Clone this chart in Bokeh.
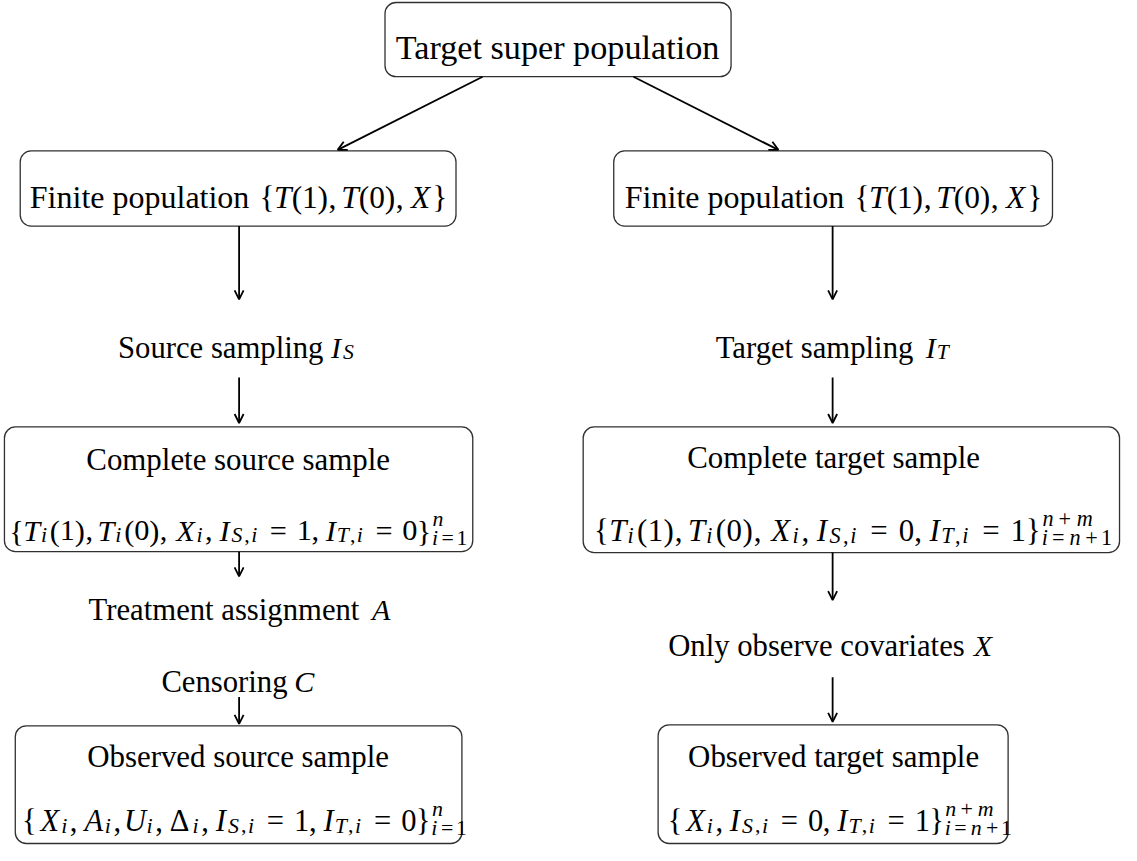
from bokeh.plotting import figure
from bokeh.models import ColumnDataSource, Range1d, Arrow, OpenHead
from bokeh.core.properties import value
from bokeh.embed import file_html
from bokeh.resources import INLINE

# ---------------- content (texts) ----------------
title_texts = ["Target super population", "Complete source sample", "Observed source sample",
               "Complete target sample", "Observed target sample"]
label_prefix = ["Finite population", "Finite population", "Source sampling", "Target sampling",
                "Treatment assignment", "Censoring", "Only observe covariates"]
label_math = [r"\{T(1), T(0), X\}", r"\{T(1), T(0), X\}", "I_S", "I_T", "A", "C", "X"]
formula_texts = [
    r"\{T_i(1), T_i(0), X_i, I_{S,i} = 1, I_{T,i} = 0\}_{i=1}^n",
    r"\{T_i(1), T_i(0), X_i, I_{S,i} = 0, I_{T,i} = 1\}_{i=n+1}^{n+m}",
    r"\{X_i, A_i, U_i, \Delta_i, I_{S,i} = 1, I_{T,i} = 0\}_{i=1}^n",
    r"\{X_i, I_{S,i} = 0, I_{T,i} = 1\}_{i=n+1}^{n+m}",
]

# ---------------- layout (diagram geometry, in reference pixels) ----------------
box_left = [391, 21, 623, 5, 592, 16, 668]
box_right = [742, 463, 1068, 480, 1136, 469, 1023]
box_top = [8, 158, 158, 437, 437, 739, 738]
box_bottom = [83, 234, 234, 563, 564, 858, 858]

arrow_x0 = [490, 643, 243, 243, 243, 243, 845, 845, 845, 845]
arrow_y0 = [83, 83, 234, 387, 563, 710, 234, 387, 564, 690]
arrow_x1 = [343, 790, 243, 243, 243, 243, 845, 845, 845, 845]
arrow_y1 = [157, 157, 308, 433, 588, 737, 308, 433, 612, 735]

title_cx = [566, 242, 242, 846, 846]
title_base = [53, 470, 770, 468, 770]
title_em = [31.5, 28.5, 28.5, 28.5, 28.5]

label_cx = [242, 845.5, 243, 845, 243, 243, 845]
label_base = [205, 205, 357, 357, 622, 695, 658]
label_em = [29.5, 29.5, 28.3, 28.3, 28.3, 28.3, 28.3]

formula_x0 = [10, 603, 23, 678]
formula_base = [542, 542, 835, 835]
formula_em = [28.6, 30.3, 29.0, 28.9]        # spacing em
formula_font_em = [28.5, 29.0, 28.6, 28.6]   # glyph size em

FONT = "'Liberation Serif', 'Times New Roman', serif"

# Computer Modern metrics (em units) used to typeset glyph slots
CM_RM = {'{': .5, '}': .5, '(': .389, ')': .389, ',': .278, '=': .778, '+': .778,
         '0': .5, '1': .5, 'Δ': .833, ' ': .333,
         'a': .5, 'b': .556, 'c': .444, 'd': .556, 'e': .444, 'f': .306, 'g': .5, 'h': .556,
         'i': .278, 'l': .278, 'm': .833, 'n': .556, 'o': .5, 'p': .556, 'r': .392, 's': .394,
         't': .389, 'u': .556, 'v': .528, 'y': .528,
         'C': .722, 'F': .653, 'O': .778, 'S': .556, 'T': .722}
CM_IT = {'T': .584, 'X': .828, 'I': .44, 'A': .75, 'U': .683, 'C': .715, 'S': .613,
         'i': .345, 'n': .6, 'm': .878}
# advance widths of the Times-like italic glyphs actually drawn
TM_IT = {'T': .556, 'X': .611, 'I': .333, 'A': .611, 'U': .722, 'C': .667, 'S': .5,
         'i': .278, 'n': .5, 'm': .722}
SCRIPT_W = {'i': .282, 'n': .498, 'm': .718, 'S': .496, 'T': .473, '=': .614, '+': .614,
            '1': .398, ',': .223}
SYM = {r'\{': '{', r'\}': '}', r'\Delta': 'Δ'}

TEXT_SCALE = 1.10    # text font size per CM em
MATH_SCALE = 1.08
SCRIPT_SCALE = 0.72


def tokenize(s):
    out, i = [], 0
    while i < len(s):
        c = s[i]
        if c == ' ':
            i += 1
            continue
        if c == '\\':
            if s[i + 1].isalpha():
                j = i + 1
                while j < len(s) and s[j].isalpha():
                    j += 1
                out.append(s[i:j]); i = j
            else:
                out.append(s[i:i + 2]); i += 2
        else:
            out.append(c); i += 1
    return out


def read_script(toks, k):
    if toks[k] == '{':
        depth, j, grp = 1, k + 1, []
        while True:
            if toks[j] == '{':
                depth += 1
            elif toks[j] == '}':
                depth -= 1
                if depth == 0:
                    break
            grp.append(toks[j]); j += 1
        return [SYM.get(t, t) for t in grp], j + 1
    return [SYM.get(toks[k], toks[k])], k + 1


def parse(s):
    toks, atoms, k = tokenize(s), [], 0
    while k < len(toks):
        t = toks[k]
        if t in ('_', '^'):
            scr, k = read_script(toks, k + 1)
            atoms[-1]['sub' if t == '_' else 'sup'] = scr
            continue
        atoms.append(dict(ch=SYM.get(t, t), sub=None, sup=None)); k += 1
    return atoms


def cls_of(ch):
    if ch in '{(':
        return 'open'
    if ch in '})':
        return 'close'
    if ch == ',':
        return 'punct'
    if ch == '=':
        return 'rel'
    if ch == '+':
        return 'bin'
    return 'ord'


SPACE = {('ord', 'rel'): 5, ('rel', 'ord'): 5, ('close', 'rel'): 5, ('rel', 'open'): 5,
         ('ord', 'bin'): 4, ('bin', 'ord'): 4, ('close', 'bin'): 4, ('bin', 'open'): 4}


def is_it(ch):
    return ch.isalpha() and ch != 'Δ'


def layout_math(s, x0, y0, E, Ef=None):
    Ef = Ef or E
    glyphs, x, prev = [], x0, None
    F = Ef * MATH_SCALE
    for a in parse(s):
        ch = a['ch']
        c = cls_of(ch)
        if prev is not None:
            sp = 3 if prev == 'punct' else SPACE.get((prev, c), 0)
            x += sp / 18 * E
        it = is_it(ch)
        w = (CM_IT if it else CM_RM)[ch] * E
        has_scr = bool(a['sub'] or a['sup'])
        gx = x + w / 2
        if it and has_scr:
            gx += 0.3 * (w - TM_IT[ch] * F)
        glyphs.append((gx, y0, ch, it, False))
        x += w
        if has_scr:
            both = bool(a['sub'] and a['sup'])
            scr_w = 0
            for key, dy in (('sup', -0.42 * Ef), ('sub', (0.24 if both else 0.16) * Ef)):
                seq = a[key]
                if not seq:
                    continue
                xs = x + (0.08 * E if key == 'sup' and it else 0)
                for sc in seq:
                    sw = SCRIPT_W[sc] * E
                    glyphs.append((xs + sw / 2, y0 + dy, sc, is_it(sc), True))
                    xs += sw
                scr_w = max(scr_w, xs - x)
            x += scr_w + 0.05 * E
        prev = c
    return glyphs, x - x0


# ---------------- figure ----------------
W, H = 1121, 845
X0, X1 = 1, 1138
Y0, Y1 = 860, 6
sx = W / (X1 - X0)

p = figure(width=W, height=H, x_range=Range1d(X0, X1), y_range=Range1d(Y0, Y1),
           output_backend="svg", toolbar_location=None, min_border=0,
           x_axis_type=None, y_axis_type=None)
p.grid.visible = False
p.outline_line_color = None
p.background_fill_color = "white"
p.border_fill_color = "white"

# boxes
p.quad(left=box_left, right=box_right, top=box_top, bottom=box_bottom,
       fill_color=None, line_color="#303030", line_width=1.3, border_radius=11)

# arrows
asrc = ColumnDataSource(dict(x0=arrow_x0, y0=arrow_y0, x1=arrow_x1, y1=arrow_y1))
p.add_layout(Arrow(end=OpenHead(size=9, line_width=1.8, line_color="black"),
                   source=asrc, x_start="x0", y_start="y0", x_end="x1", y_end="y1",
                   line_width=1.8, line_color="black"))

groups = {}


def add(x, y, t, size, italic):
    key = (round(size, 1), italic)
    g = groups.setdefault(key, dict(x=[], y=[], t=[]))
    g['x'].append(x); g['y'].append(y); g['t'].append(t)


for t, cx, by, E in zip(title_texts, title_cx, title_base, title_em):
    add(cx, by, t, E * sx * TEXT_SCALE, False)

for pre, m, cx, by, E in zip(label_prefix, label_math, label_cx, label_base, label_em):
    pre_w = sum(CM_RM[c] for c in pre) * E
    gl, mw = layout_math(m, 0, by, E)
    total = pre_w + CM_RM[' '] * E + mw
    start = cx - total / 2
    add(start + pre_w / 2, by, pre, E * sx * TEXT_SCALE, False)
    off = start + pre_w + CM_RM[' '] * E
    for gx, gy, ch, it, scr in gl:
        size = E * sx * MATH_SCALE * (SCRIPT_SCALE if scr else 1)
        add(gx + off, gy, ch, size, it)

for f, x0, by, E, Ef in zip(formula_texts, formula_x0, formula_base, formula_em, formula_font_em):
    gl, mw = layout_math(f, x0, by, E, Ef)
    for gx, gy, ch, it, scr in gl:
        size = Ef * sx * MATH_SCALE * (SCRIPT_SCALE if scr else 1)
        add(gx, gy, ch, size, it)

for (size, italic), g in groups.items():
    p.text(x='x', y='y', text='t', source=ColumnDataSource(g),
           text_font=value(FONT), text_font_size=f"{size}px",
           text_font_style="italic" if italic else "normal",
           text_align="center", text_baseline="alphabetic", text_color="black")

open("out.html", "w").write(file_html(p, INLINE))
